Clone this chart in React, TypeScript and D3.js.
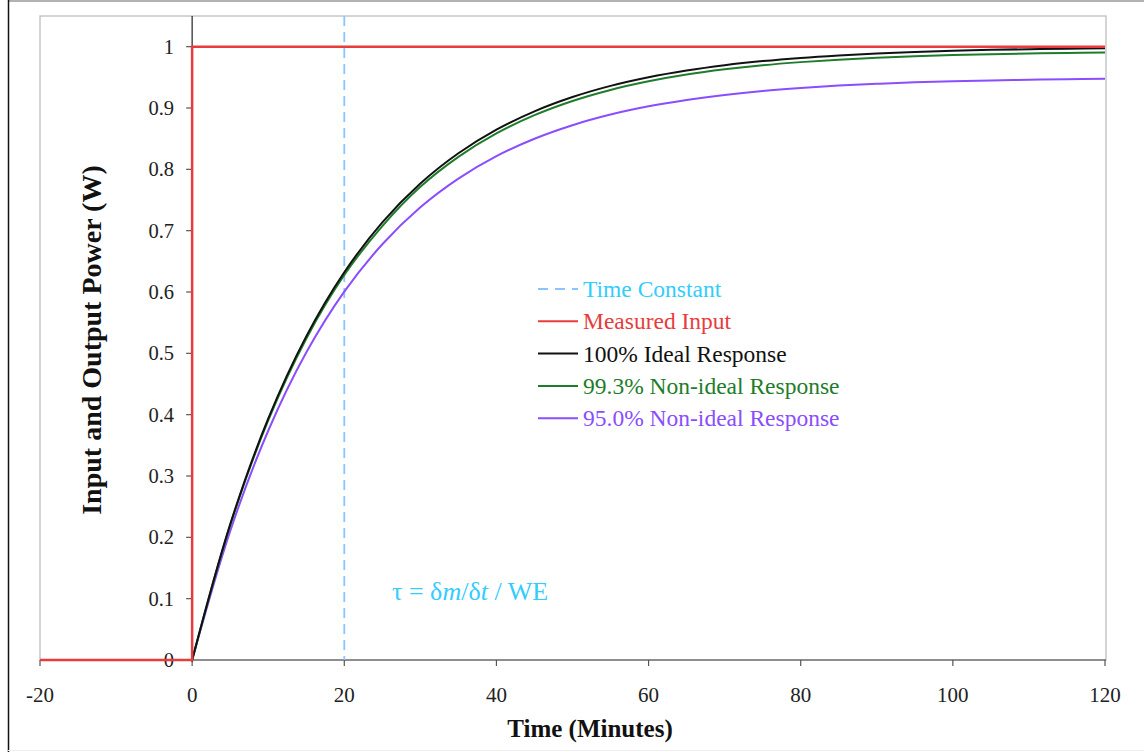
import React from "react";
import * as d3 from "d3";

const W = 1144;
const H = 752;

const timeMinutes = [0, 5, 10, 15, 20, 25, 30, 35, 40, 45, 50, 55, 60, 65, 70, 75, 80, 85, 90, 95, 100, 105, 110, 115, 120];
const idealResponse = [0, 0.2212, 0.3935, 0.5276, 0.6321, 0.7135, 0.7769, 0.8262, 0.8647, 0.8946, 0.9179, 0.9361, 0.9502, 0.9612, 0.9698, 0.9765, 0.9817, 0.9857, 0.9889, 0.9913, 0.9933, 0.9948, 0.9959, 0.9968, 0.9975];
const nonIdeal993 = [0, 0.2196, 0.3907, 0.5239, 0.6277, 0.7075, 0.7715, 0.8204, 0.8586, 0.8883, 0.9115, 0.9295, 0.9435, 0.9545, 0.963, 0.9697, 0.9748, 0.9788, 0.982, 0.9844, 0.9863, 0.9878, 0.9889, 0.9898, 0.9905];
const nonIdeal950 = [0, 0.2101, 0.3738, 0.5012, 0.6005, 0.6778, 0.7381, 0.7849, 0.8215, 0.8499, 0.872, 0.8893, 0.9027, 0.9131, 0.9213, 0.9277, 0.9326, 0.9365, 0.9394, 0.9418, 0.9436, 0.945, 0.9461, 0.947, 0.9476];
const inputTime = [-20, 0, 0, 120];
const inputPower = [0, 0, 1, 1];
const timeConstant = 20;
const xTicks = [-20, 0, 20, 40, 60, 80, 100, 120];
const yTicks = [0, 0.1, 0.2, 0.3, 0.4, 0.5, 0.6, 0.7, 0.8, 0.9, 1];

const legendItems = [
  { label: "Time Constant", line: "#8cc4ff", text: "#33ccff", dash: true },
  { label: "Measured Input", line: "#e83c3c", text: "#e83c3c", dash: false },
  { label: "100% Ideal Response", line: "#111111", text: "#111111", dash: false },
  { label: "99.3% Non-ideal Response", line: "#1e7d2a", text: "#1e7d2a", dash: false },
  { label: "95.0% Non-ideal Response", line: "#8a4dff", text: "#8a4dff", dash: false },
];

const FONT = "'Liberation Serif', 'Times New Roman', serif";

export default function App() {
  const x = d3.scaleLinear().domain([-20, 120]).range([40, 1105]);
  const y = d3.scaleLinear().domain([0, 1.05]).range([660, 16]);

  const curve = (vals: number[]) =>
    d3
      .line<number>()
      .x((_, i) => x(timeMinutes[i]))
      .y((d) => y(d))
      .curve(d3.curveCatmullRom.alpha(0.5))(vals) || "";

  const inputPath =
    d3
      .line<number>()
      .x((_, i) => x(inputTime[i]))
      .y((d) => y(d))(inputPower) || "";

  const legendX = 538;
  const legendY0 = 289;
  const legendStep = 32.3;

  return (
    <svg width={W} height={H} style={{ position: "absolute", left: 0, top: 0, background: "#fff" }} fontFamily={FONT}>
      <rect x={0} y={0} width={W} height={H} fill="#fff" />
      {/* outer frame */}
      <line x1={8} x2={W} y1={1} y2={1} stroke="#999" strokeWidth={1.5} />
      <line x1={8.5} x2={8.5} y1={0} y2={H} stroke="#111" strokeWidth={1.5} />
      <line x1={8} x2={W} y1={750.5} y2={750.5} stroke="#eee" strokeWidth={1} />

      {/* plot box */}
      <rect x={40} y={16} width={1106 - 40} height={660 - 16} fill="none" stroke="#b8b8b8" strokeWidth={1.2} />

      {/* x axis */}
      <line x1={40} x2={1106} y1={660} y2={660} stroke="#777" strokeWidth={1.5} />
      {xTicks.map((t) => (
        <g key={t}>
          <line x1={x(t)} x2={x(t)} y1={660} y2={666} stroke="#555" strokeWidth={1.2} />
          <text x={x(t)} y={702} textAnchor="middle" fontSize={21} fill="#222">
            {t}
          </text>
        </g>
      ))}

      {/* y axis */}
      <line x1={x(0)} x2={x(0)} y1={16} y2={662} stroke="#222" strokeWidth={1.2} />
      {yTicks.map((t) => (
        <g key={t}>
          <line x1={x(0) - 6} x2={x(0)} y1={y(t)} y2={y(t)} stroke="#555" strokeWidth={1.2} />
          <text x={174} y={y(t) + 7} textAnchor="end" fontSize={20.5} fill="#222">
            {t}
          </text>
        </g>
      ))}

      {/* time constant */}
      <line x1={x(timeConstant)} x2={x(timeConstant)} y1={16} y2={660} stroke="#8cc4ff" strokeWidth={1.8} strokeDasharray="10,6" />

      {/* series */}
      <path d={curve(nonIdeal950)} fill="none" stroke="#8a4dff" strokeWidth={2} />
      <path d={curve(nonIdeal993)} fill="none" stroke="#1e7d2a" strokeWidth={2} />
      <path d={curve(idealResponse)} fill="none" stroke="#111" strokeWidth={2} />
      <path d={inputPath} fill="none" stroke="#e83c3c" strokeWidth={2.5} />

      {/* legend */}
      {legendItems.map((it, i) => {
        const cy = legendY0 + i * legendStep;
        return (
          <g key={it.label}>
            <line
              x1={legendX}
              x2={legendX + 40}
              y1={cy}
              y2={cy}
              stroke={it.line}
              strokeWidth={it.dash ? 1.8 : 2}
              strokeDasharray={it.dash ? "10,7" : undefined}
            />
            <text x={legendX + 45} y={cy + 8} fontSize={23.5} fill={it.text}>
              {it.label}
            </text>
          </g>
        );
      })}

      {/* tau annotation */}
      <text x={392} y={600} fontSize={26} fill="#33ccff">
        τ = δ<tspan fontStyle="italic">m</tspan>/δ<tspan fontStyle="italic">t</tspan> / WE
      </text>

      {/* axis titles */}
      <text x={590} y={737} textAnchor="middle" fontSize={25} fontWeight="bold" fill="#111">
        Time (Minutes)
      </text>
      <text
        transform={`translate(101, 340) rotate(-90)`}
        textAnchor="middle"
        fontSize={28}
        fontWeight="bold"
        fill="#111"
      >
        Input and Output Power (W)
      </text>
    </svg>
  );
}
